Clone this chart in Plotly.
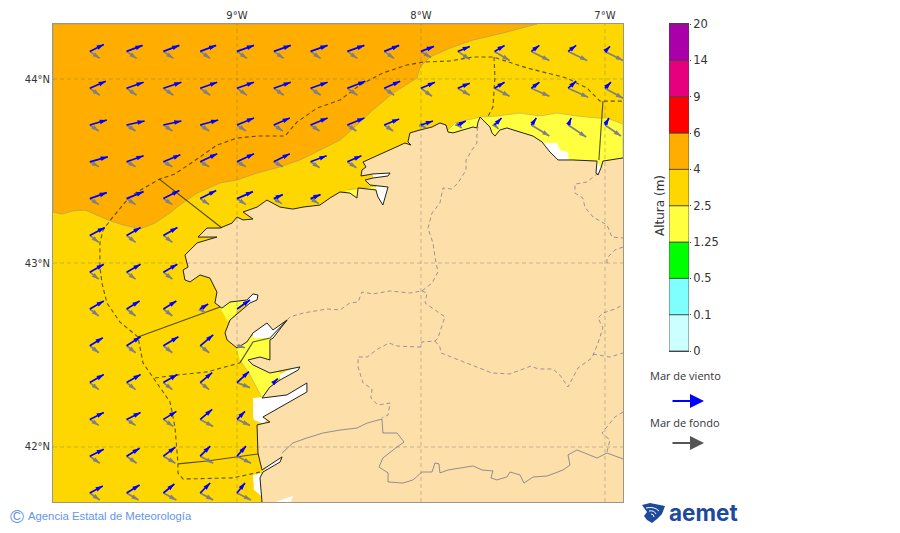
import math
import plotly.graph_objects as go

# map window, degrees
lon_range = [-10.0, -6.902]
lat_range = [41.701, 44.299]
lon_ticks = [-9, -8, -7]
lon_labels = ["9°W", "8°W", "7°W"]
lat_ticks = [42, 43, 44]
lat_labels = ["42°N", "43°N", "44°N"]

# colour bar
levels = ["0", "0.1", "0.5", "1.25", "2.5", "4", "6", "9", "14", "20"]
level_colors = ["#ccffff", "#80ffff", "#00ff00", "#ffff40", "#ffd700", "#ffae00", "#ff0000", "#e6007e", "#aa00aa"]

# coastline from the east edge round to the south edge
coast_lon = [-6.902, -6.989, -7.011, -7.022, -7.038, -7.049, -7.043, -7.043, -7.174, -7.255, -7.266, -7.299, -7.342, -7.391,
             -7.462, -7.533, -7.571, -7.598, -7.614, -7.625, -7.663, -7.679, -7.690, -7.696, -7.717, -7.772, -7.826, -7.853,
             -7.864, -7.897, -7.940, -8.005, -8.060, -8.071, -8.054, -8.087, -8.168, -8.261, -8.315, -8.299, -8.321, -8.326,
             -8.261, -8.168, -8.179, -8.261, -8.304, -8.277, -8.179, -8.207, -8.234, -8.245, -8.342, -8.348, -8.386, -8.440,
             -8.495, -8.549, -8.641, -8.696, -8.766, -8.837, -8.891, -8.967, -8.913, -8.967, -9.0, -9.027, -9.092, -9.163,
             -9.212, -9.109, -9.163, -9.217, -9.255, -9.283, -9.266, -9.293, -9.283, -9.255, -9.201, -9.147, -9.109, -9.120,
             -9.082, -9.038, -8.946, -8.913, -8.886, -8.891, -8.929, -9.038, -9.065, -9.054, -9.0, -8.946, -8.913, -8.837,
             -8.804, -8.728, -8.804, -8.821, -8.821, -8.875, -8.940, -8.913, -8.821, -8.658, -8.668, -8.766, -8.821, -8.864,
             -8.728, -8.620, -8.620, -8.728, -8.821, -8.859, -8.821, -8.891, -8.886, -8.864, -8.755, -8.766, -8.859, -8.875,
             -8.864]
coast_lat = [43.571, 43.560, 43.554, 43.516, 43.478, 43.489, 43.533, 43.554, 43.560, 43.560, 43.571, 43.603, 43.658, 43.690,
             43.712, 43.734, 43.723, 43.690, 43.707, 43.739, 43.777, 43.793, 43.766, 43.734, 43.739, 43.723, 43.707, 43.712,
             43.750, 43.761, 43.739, 43.723, 43.707, 43.658, 43.641, 43.652, 43.614, 43.571, 43.549, 43.522, 43.505, 43.473,
             43.484, 43.489, 43.473, 43.462, 43.451, 43.424, 43.413, 43.315, 43.359, 43.397, 43.408, 43.353, 43.380, 43.386,
             43.353, 43.315, 43.304, 43.293, 43.304, 43.342, 43.304, 43.277, 43.239, 43.234, 43.250, 43.217, 43.190, 43.190,
             43.141, 43.141, 43.125, 43.109, 43.071, 43.043, 42.978, 42.962, 42.908, 42.897, 42.935, 42.918, 42.842, 42.783,
             42.755, 42.788, 42.799, 42.832, 42.826, 42.799, 42.783, 42.690, 42.620, 42.582, 42.538, 42.571, 42.620, 42.674,
             42.636, 42.690, 42.592, 42.582, 42.473, 42.489, 42.473, 42.446, 42.402, 42.435, 42.418, 42.364, 42.326, 42.266,
             42.283, 42.348, 42.299, 42.239, 42.185, 42.163, 42.136, 42.120, 41.967, 41.875, 41.946, 41.918, 41.864, 41.832,
             41.701]

# wave height areas
orange_lon = [-10.0, -10.0, -9.951, -9.891, -9.826, -9.761, -9.701, -9.620, -9.527, -9.446, -9.364, -9.326, -9.217, -9.092, -9.0,
              -8.891, -8.766, -8.658, -8.549, -8.440, -8.348, -8.261, -8.152, -8.022, -8.005, -7.951, -7.842, -7.717, -7.554, -7.370]
orange_lat = [44.299, 43.277, 43.266, 43.283, 43.288, 43.261, 43.234, 43.207, 43.185, 43.217, 43.272, 43.304, 43.380, 43.435, 43.451,
              43.489, 43.522, 43.560, 43.614, 43.668, 43.750, 43.832, 43.924, 44.005, 44.065, 44.120, 44.168, 44.212, 44.250, 44.299]
yellow_lon = [-7.853, -7.815, -7.750, -7.679, -7.587, -7.462, -7.353, -7.261, -7.152, -7.043, -6.989, -6.902, -6.902, -7.853, None,
              -8.402, -8.245, -8.228, -8.359, -8.440, None,
              -9.092, -9.038, -8.946, -9.027, -9.049, None,
              -9.005, -8.913, -8.793, -8.810, -8.750, -8.821, -8.864, -8.929, -8.984]
yellow_lat = [43.723, 43.761, 43.777, 43.793, 43.799, 43.815, 43.799, 43.815, 43.799, 43.788, 43.788, 43.755, 43.505, 43.505, None,
              43.397, 43.418, 43.370, 43.315, 43.342, None,
              42.755, 42.799, 42.810, 42.690, 42.679, None,
              42.549, 42.609, 42.603, 42.446, 42.391, 42.310, 42.266, 42.391, 42.473]
nodata_lon = [-7.337, -7.261, -7.245, -7.201, -7.196, -7.353, None,
              -8.245, -8.179, -8.201, -8.234, None,
              -8.261, -8.168, -8.179, -8.261, None,
              -8.946, -8.913, -8.880, -8.886, -8.957, None,
              -8.913, -8.837, -8.777, -8.728, -8.783, -8.913, None,
              -8.766, -8.652, -8.652, -8.766, None,
              -8.913, -8.864, -8.728, -8.609, -8.609, -8.728, -8.821, -8.853, -8.908, -8.913, None,
              -8.913, -8.864, -8.864, -8.886, -8.908, None,
              -8.864, -8.766, -8.750, -8.859, None,
              -7.043, -7.022, -7.038, -7.049]
nodata_lat = [43.652, 43.652, 43.614, 43.603, 43.533, 43.533, None,
              43.418, 43.418, 43.304, 43.342, None,
              43.484, 43.489, 43.473, 43.462, None,
              42.810, 42.842, 42.837, 42.788, 42.772, None,
              42.620, 42.685, 42.658, 42.701, 42.592, 42.592, None,
              42.397, 42.446, 42.413, 42.353, None,
              42.266, 42.272, 42.293, 42.359, 42.288, 42.223, 42.168, 42.125, 42.147, 42.168, None,
              41.848, 41.859, 41.728, 41.750, 41.766, None,
              41.864, 41.951, 41.929, 41.848, None,
              43.554, 43.516, 43.478, 43.489]
sliver_lon = [-8.793, -8.696, -8.707]
sliver_lat = [41.701, 41.734, 41.701]

# inland borders
province_lon = [-7.690, -7.696, -7.696, -7.723, -7.755, -7.755, -7.799, -7.832, -7.880, -7.897, -7.940, -7.962, -7.935, -7.924, -7.908,
                -7.940, -7.995, -8.060, -8.168, -8.261, -8.321, -8.342, -8.386, -8.440, -8.511, -8.592, -8.641, -8.712, -8.728, None,
                -7.995, -7.967, -7.978, -7.870, -7.908, -7.924, -7.995, -8.005, -8.130, -8.174, -8.234, -8.293, -8.342, -8.342,
                -8.315, -8.266, -8.272, -8.234, -8.168, -8.179, -8.212, None,
                -7.924, -7.897, -7.891, -7.750, -7.614, -7.516, -7.402, -7.364, -7.283, -7.245, -7.201, -7.147, -7.071, -7.038,
                -7.011, -7.038, -7.011, -6.946, -6.902, None,
                -7.065, -6.973, -6.902, None,
                -6.902, -6.946, -7.016, -6.973, -6.989, None,
                -7.038, -7.098, -7.163, -7.163, -7.120, -7.109, -7.065, -6.989, -6.962, -6.902, None,
                -6.902, -6.946, -6.989, -6.989]
province_lat = [43.739, 43.712, 43.652, 43.614, 43.560, 43.505, 43.435, 43.402, 43.408, 43.326, 43.272, 43.190, 43.109, 43.033, 42.951,
                42.891, 42.848, 42.837, 42.848, 42.832, 42.842, 42.788, 42.783, 42.745, 42.750, 42.734, 42.728, 42.707, 42.690, None,
                42.848, 42.837, 42.783, 42.707, 42.592, 42.576, 42.571, 42.543, 42.549, 42.565, 42.533, 42.489, 42.489, 42.435,
                42.348, 42.315, 42.266, 42.228, 42.239, 42.174, 42.158, None,
                42.576, 42.543, 42.511, 42.457, 42.402, 42.397, 42.440, 42.424, 42.424, 42.391, 42.326, 42.429, 42.484, 42.565,
                42.647, 42.701, 42.728, 42.750, 42.772, None,
                42.505, 42.489, 42.511, None,
                42.190, 42.163, 42.076, 42.038, 41.973, None,
                43.489, 43.440, 43.429, 43.380, 43.353, 43.304, 43.250, 43.207, 43.141, 43.136, None,
                43.087, 43.071, 43.027, 42.995]
portugal_lon = [-8.755, -8.696, -8.620, -8.533, -8.440, -8.348, -8.293, -8.212, -8.207, -8.130, -8.092, -8.130, -8.207, -8.228,
                -8.179, -8.179, -8.098, -8.043, -7.995, -7.940, -7.924, -7.902, -7.897, -7.853, -7.717, -7.668, -7.609, -7.620,
                -7.587, -7.533, -7.516, -7.462, -7.440, -7.391, -7.315, -7.228, -7.190, -7.201, -7.152, -7.043, -6.989, -6.902]
portugal_lat = [41.967, 42.022, 42.049, 42.076, 42.092, 42.103, 42.130, 42.152, 42.076, 42.076, 42.027, 42.000, 41.940, 41.891,
                41.859, 41.810, 41.804, 41.821, 41.864, 41.864, 41.913, 41.908, 41.859, 41.875, 41.897, 41.875, 41.870, 41.832,
                41.821, 41.837, 41.864, 41.848, 41.804, 41.837, 41.842, 41.875, 41.902, 41.957, 41.984, 41.940, 41.967, 41.935]

# forecast zones
zone_dash_lon = [-8.875, -9.022, -9.293, -9.321, -9.321, -9.337, -9.364, -9.435, -9.511, -9.538, -9.636, -9.707, -9.734, -9.745,
                 -9.745, -9.728, -9.679, -9.598, -9.543, -9.418, -9.337, -9.201, -9.109, -9.0, -8.891, -8.739, -8.674, -8.565,
                 -8.440, -8.332, -8.207, -8.076, -7.989, -7.842, -7.717, -7.609, -7.424, -7.207, -7.098, -7.027, -6.902, None,
                 -7.603, -7.598, -7.609, -7.641, None,
                 -9.446, -9.326, -9.163, -8.984]
zone_dash_lat = [41.864, 41.832, 41.826, 41.859, 41.913, 42.109, 42.245, 42.348, 42.457, 42.598, 42.679, 42.783, 42.891, 42.978,
                 43.109, 43.179, 43.245, 43.342, 43.386, 43.457, 43.484, 43.576, 43.641, 43.679, 43.690, 43.690, 43.766, 43.842,
                 43.886, 43.967, 44.033, 44.076, 44.092, 44.098, 44.120, 44.120, 44.060, 44.005, 43.951, 43.880, 43.880, None,
                 44.120, 44.011, 43.848, 43.788, None,
                 42.375, 42.391, 42.408, 42.457]
zone_solid_lon = [-9.424, -9.082, None, -7.011, -7.033, None, -9.538, -9.092, None,
                  -8.984, -8.913, -8.821, -8.728, None, -9.321, -9.163, -8.886]
zone_solid_lat = [43.457, 43.190, None, 43.880, 43.560, None, 42.598, 42.761, None,
                  42.457, 42.571, 42.592, 42.690, None, 41.908, 41.924, 41.962]

# arrow grid, one row per latitude, north to south
grid_lon = [-9.8, -9.6, -9.4, -9.2, -9.0, -8.8, -8.6, -8.4, -8.2, -8.0, -7.8, -7.6, -7.4, -7.2, -7.0]
grid_lat = [44.15, 43.95, 43.75, 43.55, 43.35, 43.15, 42.95, 42.75, 42.55, 42.35, 42.15, 41.95, 41.75]
arrow_scale = 1 / 184  # vector units to degrees

wind_u = [[14, 16, 16, 16, 17, 17, 17, 17, 15, 13, 12, 10, 8, 8, 5],
          [16, 17, 18, 17, 17, 17, 17, 18, 16, 14, 12, 10, 8, 8, 6],
          [17, 18, 18, 18, 17, 16, 17, 17, 15, 12, 8, 7, 5, 3, 4],
          [18, 17, 17, 17, 17, 16, 16, 14],
          [17, 17, 16, 16, 16, 9, 10],
          [15, 14, 14],
          [14, 14, 14],
          [14, 13, 13, 8, 13],
          [13, 14, 15, 13],
          [14, 14, 14, 12, 12, 4],
          [14, 14, 13, 12, 8],
          [14, 13, 12, 10, 9],
          [13, 13, 11, 10, 8]]
wind_v = [[7, 6, 6, 6, 6, 6, 6, 6, 6, 5, 5, 6, 6, 6, 5],
          [7, 6, 6, 6, 6, 6, 6, 7, 7, 6, 5, 6, 6, 7, 6],
          [5, 4, 4, 5, 7, 7, 7, 7, 6, 4, 4, 7, 7, 7, 7],
          [5, 6, 7, 8, 8, 8, 6, 6],
          [6, 7, 8, 8, 7, 4, 4],
          [8, 8, 8],
          [8, 8, 8],
          [8, 8, 8, 5, 9],
          [8, 9, 9, 11],
          [8, 8, 8, 10, 11, 4],
          [7, 7, 8, 10, 8],
          [7, 8, 9, 10, 10],
          [7, 8, 9, 10, 10]]
swell_u = [[10, 10, 10, 10, 10, 10, 10, 10, 10, 10, 12, 15, 18, 19, 18],
           [10, 10, 10, 10, 10, 10, 10, 10, 10, 11, 12, 15, 18, 20, 18],
           [9, 9, 9, 9, 9, 9, 9, 9, 9, 5, 4, 4, 18, 18, 16],
           [9, 9, 9, 9, 9, 9, 9, 9],
           [9, 9, 9, 9, 9, 8, 8],
           [9, 9, 9],
           [9, 9, 9],
           [9, 9, 9, 5],
           [9, 9, 9, 9, 8],
           [9, 9, 9, 9, 13],
           [9, 9, 10, 13, 13],
           [10, 10, 12, 13, 14],
           [10, 12, 13, 13, 14]]
swell_v = [[-7, -7, -7, -7, -7, -7, -7, -7, -7, -6, -8, -9, -9, -9, -9],
           [-7, -7, -7, -7, -7, -7, -7, -7, -7, -8, -7, -8, -8, -9, -10],
           [-6, -6, -6, -6, -6, -6, -6, -6, -6, -3, -3, -4, -11, -12, -11],
           [-5, -5, -5, -5, -5, -5, -6, -6],
           [-6, -6, -6, -6, -6, -5, -5],
           [-7, -7, -7],
           [-7, -7, -7],
           [-7, -7, -7, -4],
           [-7, -7, -7, -7, -2],
           [-7, -7, -7, -7, -5],
           [-6, -6, -7, -7, -6],
           [-7, -7, -7, -7, -7],
           [-7, -7, -7, -7, -7]]

fig = go.Figure()


def add_area(lons, lats, color, edge=None):
    fig.add_trace(go.Scatter(x=lons, y=lats, mode="lines", fill="toself", fillcolor=color,
                             line=dict(color=edge or color, width=0.8 if edge else 0), hoverinfo="skip"))


def add_line(lons, lats, color, width, dash="solid"):
    fig.add_trace(go.Scatter(x=lons, y=lats, mode="lines", line=dict(color=color, width=width, dash=dash),
                             connectgaps=False, hoverinfo="skip"))


def add_arrows(us, vs, color):
    xs, ys, head_x, head_y, head_angle = [], [], [], [], []
    for lat, row_u, row_v in zip(grid_lat, us, vs):
        for lon, u, v in zip(grid_lon, row_u, row_v):
            tip_x = lon + u * arrow_scale
            tip_y = lat + v * arrow_scale
            xs += [lon, tip_x, None]
            ys += [lat, tip_y, None]
            head_x.append(tip_x)
            head_y.append(tip_y)
            head_angle.append(math.degrees(math.atan2(u, v)))
    add_line(xs, ys, color, 1.7)
    fig.add_trace(go.Scatter(x=head_x, y=head_y, mode="markers", hoverinfo="skip",
                             marker=dict(symbol="arrow", size=7.5, color=color, angle=head_angle, line=dict(width=0))))


def add_label(px, py, text, size, color, family="DejaVu Sans", anchor="center", angle=0):
    fig.add_annotation(x=px / 900, y=1 - py / 533, xref="paper", yref="paper", xanchor=anchor, yanchor="middle", text=text,
                       textangle=angle, showarrow=False, font=dict(family=family, size=size, color=color))


def add_key_arrow(py, color):
    fig.add_annotation(x=704 / 900, y=1 - py / 533, xref="paper", yref="paper", axref="pixel", ayref="pixel", ax=-33, ay=0,
                       text="", showarrow=True, arrowhead=2, arrowsize=1.4, arrowwidth=2, arrowcolor=color)


add_area(orange_lon + [orange_lon[0]], orange_lat + [orange_lat[0]], level_colors[5], "#b8a060")
add_area(yellow_lon, yellow_lat, level_colors[3], "#c8b850")
add_area(nodata_lon, nodata_lat, "#ffffff")
add_area(coast_lon + [-6.902, -6.902], coast_lat + [41.701, 43.571], "#fddfa9")
add_area(sliver_lon, sliver_lat, "#ffffff")
add_line(coast_lon, coast_lat, "#222222", 1)
add_line(province_lon, province_lat, "rgba(90,90,130,0.65)", 0.9, "4px,3px")
add_line(portugal_lon, portugal_lat, "rgba(90,90,130,0.7)", 0.9)
add_line(zone_dash_lon, zone_dash_lat, "rgba(40,40,20,0.75)", 1.1, "4px,3px")
add_line(zone_solid_lon, zone_solid_lat, "rgba(40,40,20,0.8)", 1.1)

grid_x, grid_y = [], []
for lon in lon_ticks:
    grid_x += [lon, lon, None]
    grid_y += [lat_range[0], lat_range[1], None]
for lat in lat_ticks:
    grid_x += [lon_range[0], lon_range[1], None]
    grid_y += [lat, lat, None]
add_line(grid_x, grid_y, "rgba(100,100,100,0.4)", 0.9, "4px,3px")

add_arrows(swell_u, swell_v, "#808080")
add_arrows(wind_u, wind_v, "#0000ff")

# colour bar as a stacked column on its own axes
for i, c in enumerate(level_colors):
    fig.add_trace(go.Bar(x=["Altura"], y=[1], base=i, width=1, marker=dict(color=c, line=dict(color="#444444", width=0.8)),
                         xaxis="x2", yaxis="y2", hoverinfo="skip"))

fig.update_layout(
    width=900, height=533, margin=dict(l=0, r=0, t=0, b=0),
    paper_bgcolor="white", plot_bgcolor=level_colors[4],
    showlegend=False, barmode="overlay",
    font=dict(family="DejaVu Sans", color="#333333"),
    xaxis=dict(domain=[53 / 900, 623 / 900], range=lon_range, side="top", tickvals=lon_ticks, ticktext=lon_labels,
               showgrid=False, zeroline=False, showline=True, mirror=True, linecolor="rgba(90,80,50,0.6)",
               tickfont=dict(size=10), ticks="", automargin=False),
    yaxis=dict(domain=[31 / 533, 509 / 533], range=lat_range, tickvals=lat_ticks, ticktext=lat_labels,
               showgrid=False, zeroline=False, showline=True, mirror=True, linecolor="rgba(90,80,50,0.6)",
               tickfont=dict(size=10), ticks="", automargin=False),
    xaxis2=dict(domain=[669 / 900, 689 / 900], anchor="y2", showticklabels=False, ticks="", showgrid=False,
                zeroline=False, showline=True, mirror=True, linecolor="#444444", linewidth=1, automargin=False),
    yaxis2=dict(domain=[182 / 533, 509 / 533], anchor="x2", side="right", range=[0, 9],
                tickvals=list(range(len(levels))), ticktext=levels, tickfont=dict(size=11.5),
                ticks="outside", ticklen=1, tickcolor="#444444", showgrid=False, zeroline=False, automargin=False),
)

text_color = "#333333"
add_label(660, 206, "Altura (m)", 12, text_color, angle=-90)
add_label(648, 375, "Mar de viento", 11, text_color, family="Open Sans", anchor="left")
add_label(648, 422, "Mar de fondo", 11, text_color, family="Open Sans", anchor="left")
add_key_arrow(401, "#0000ff")
add_key_arrow(443, "#555555")

# footer
credit_blue = "#6495ed"
add_label(17, 516, "©", 19, credit_blue, family="Liberation Sans")
add_label(26, 516, "Agencia Estatal de Meteorología", 11.3, credit_blue, family="Liberation Sans", anchor="left")
add_label(667, 512, "<b>aemet</b>", 22.5, "#1c4a9c", family="Inter", anchor="left")

# logo mark
logo_blue = "#1c4a9c"
fig.add_shape(type="path", xref="paper", yref="paper", xsizemode="pixel", ysizemode="pixel",
              xanchor=642 / 900, yanchor=1 - 524 / 533, fillcolor=logo_blue, line=dict(width=0),
              path="M0,19 L8,21 L23,18 L20,10 L15,5 L10,1 L5,4 L2,8 L5,12 Z")
fig.add_shape(type="path", xref="paper", yref="paper", xsizemode="pixel", ysizemode="pixel",
              xanchor=642 / 900, yanchor=1 - 524 / 533, fillcolor="rgba(0,0,0,0)", line=dict(color="white", width=1),
              path="M4,16 Q12,18 17,13 M7,13 Q12,14 14,10 M9,10 Q12,10 12,7")

fig.write_html("out.html", config={"displayModeBar": False}, post_script="document.body.style.margin='0';")
